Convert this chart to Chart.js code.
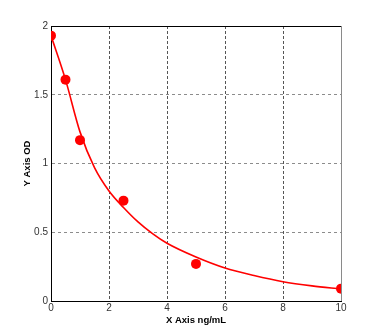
<!DOCTYPE html>
<html>
<head>
<meta charset="utf-8">
<script src="https://cdn.jsdelivr.net/npm/chart.js@4/dist/chart.umd.min.js"></script>
<style>
  html, body { margin: 0; padding: 0; background: #fff; }
  canvas { display: block; }
</style>
</head>
<body>
<canvas id="c" width="371" height="330"></canvas>
<script>
// Standards: concentration (ng/mL) and measured OD
const stdConc = [0, 0.5, 1, 2.5, 5, 10];
const stdOD = [1.93, 1.61, 1.17, 0.73, 0.27, 0.09];

// Fitted standard curve
const fitConc = [0, 0.5, 1, 1.5, 2, 2.5, 3, 3.5, 4, 5, 6, 7, 8, 9, 10];
const fitOD = [1.93, 1.61, 1.23, 0.97, 0.80, 0.68, 0.575, 0.49, 0.42, 0.32, 0.24, 0.185, 0.14, 0.11, 0.088];

// Axis ticks
const xTicks = [0, 2, 4, 6, 8, 10];
const yTicks = [0, 0.5, 1, 1.5, 2];

const toXY = (xs, ys) => xs.map((x, i) => ({ x: x, y: ys[i] }));

// Closes the plot box on the top (black) and right (grey)
const frame = {
  id: 'frame',
  beforeDatasetsDraw(chart) {
    const { ctx, chartArea: a } = chart;
    ctx.save();
    ctx.lineWidth = 1;
    ctx.strokeStyle = '#000';
    ctx.beginPath();
    ctx.moveTo(a.left, Math.round(a.top) + 0.5);
    ctx.lineTo(a.right, Math.round(a.top) + 0.5);
    ctx.stroke();
    ctx.strokeStyle = '#8a8a8a';
    ctx.beginPath();
    ctx.moveTo(Math.round(a.right) + 0.5, a.top);
    ctx.lineTo(Math.round(a.right) + 0.5, a.bottom);
    ctx.stroke();
    ctx.restore();
  }
};

const tickFont = { family: "'Liberation Sans', Arial, sans-serif", size: 10 };
const titleFont = { family: "'Liberation Sans', Arial, sans-serif", size: 9.5, weight: 'bold' };

new Chart(document.getElementById('c'), {
  type: 'scatter',
  data: {
    datasets: [
      {
        type: 'line',
        data: toXY(fitConc, fitOD),
        borderColor: '#ff0000',
        borderWidth: 1.6,
        pointRadius: 0,
        fill: false,
        cubicInterpolationMode: 'monotone',
        order: 2
      },
      {
        data: toXY(stdConc, stdOD),
        backgroundColor: '#ff0000',
        borderColor: '#ff0000',
        pointRadius: 5,
        pointBorderWidth: 0,
        showLine: false,
        order: 1
      }
    ]
  },
  options: {
    responsive: false,
    animation: false,
    devicePixelRatio: 1,
    layout: { padding: { top: 26, right: 30, left: 0, bottom: 0 } },
    plugins: { legend: { display: false }, tooltip: { enabled: false } },
    scales: {
      x: {
        type: 'linear',
        min: 0,
        max: 10,
        afterBuildTicks: s => { s.ticks = xTicks.map(v => ({ value: v })); },
        afterFit: s => { s.height = 29; },
        grid: {
          drawTicks: false,
          color: c => (c.tick && (c.tick.value === 0 || c.tick.value === 10)) ? 'rgba(0,0,0,0)' : '#555',
          lineWidth: 1
        },
        border: { display: true, color: '#000', width: 1, dash: [3, 2] },
        ticks: { padding: 1, color: '#333', font: tickFont, maxRotation: 0, autoSkip: false, callback: v => String(v) },
        title: { display: true, text: 'X Axis ng/mL', color: '#000', font: titleFont, padding: { top: 0, bottom: 4 } }
      },
      y: {
        type: 'linear',
        min: 0,
        max: 2,
        afterBuildTicks: s => { s.ticks = yTicks.map(v => ({ value: v })); },
        afterFit: s => { s.width = 51; },
        grid: {
          drawTicks: false,
          color: c => (c.tick && (c.tick.value === 0 || c.tick.value === 2)) ? 'rgba(0,0,0,0)' : '#8c8c8c',
          lineWidth: 1
        },
        border: { display: true, color: '#000', width: 1, dash: [3, 3] },
        ticks: { padding: 3, color: '#333', font: tickFont, autoSkip: false, callback: v => String(v) },
        title: { display: true, text: 'Y Axis OD', color: '#000', font: titleFont, padding: { top: 22, bottom: 0 } }
      }
    }
  },
  plugins: [frame]
});
</script>
</body>
</html>
